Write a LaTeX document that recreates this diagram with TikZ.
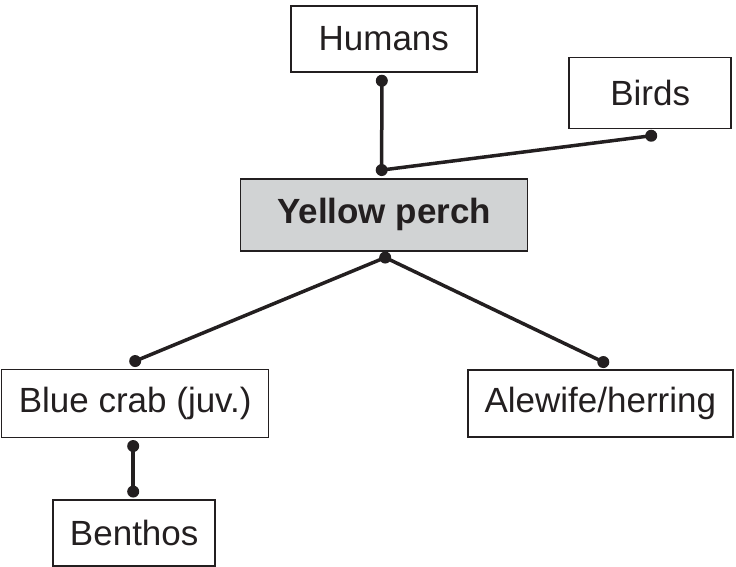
\documentclass[tikz,border=0pt]{standalone}
\usepackage{fontspec}
\setmainfont{Liberation Sans}
\usetikzlibrary{calc}
\definecolor{ink}{HTML}{231F20}
\definecolor{boxgray}{HTML}{D1D3D4}
\begin{document}
\begin{tikzpicture}[x=1pt,y=-1pt,
  box/.style={draw=ink, line width=1.5pt, rectangle, inner sep=0pt, text=ink,
    font=\fontsize{35}{42}\selectfont},
  link/.style={line width=3.5pt, draw=ink},
  dotc/.style={circle, fill=ink, inner sep=0pt, minimum size=12pt}]
\useasboundingbox (0,0) rectangle (736,567);
% boxes
\node[box, minimum width=186pt, minimum height=66pt] (humans) at (383.8,39) {Humans};
\node[box, minimum width=162pt, minimum height=71pt] (birds) at (650.2,93) {Birds};
\node[box, fill=boxgray, minimum width=287pt, minimum height=72pt, font=\fontsize{35}{42}\selectfont\bfseries] (perch) at (384.2,214.8) {Yellow perch};
\node[box, minimum width=267pt, minimum height=68pt] (crab) at (135.2,403.3) {Blue crab (juv.)};
\node[box, minimum width=265pt, minimum height=67pt] (ale) at (600.3,403.3) {Alewife/herring};
\node[box, minimum width=162pt, minimum height=66pt] (benthos) at (134.2,532.8) {Benthos};
% dots
\node[dotc] (dhum) at ($(humans.south)+(-2,8)$) {};
\node[dotc] (dpt) at ($(perch.north)+(-2.5,-8)$) {};
\node[dotc] (dbird) at ($(birds.south)+(1,6.5)$) {};
\node[dotc] (dpb) at ($(perch.south)+(1,6)$) {};
\node[dotc] (dct) at ($(crab.north)+(0,-7.5)$) {};
\node[dotc] (dcb) at ($(crab.south)+(-2,8)$) {};
\node[dotc] (dben) at ($(benthos.north)+(-1,-7.5)$) {};
\node[dotc] (dale) at ($(ale.north)+(3,-7)$) {};
% links
\draw[link] (dhum.center) -- (dpt.center);
\draw[link] (dbird.center) -- (dpt.center);
\draw[link] (dpb.center) -- (dct.center);
\draw[link] (dpb.center) -- (dale.center);
\draw[link] (dcb.center) -- (dben.center);
\end{tikzpicture}
\end{document}
